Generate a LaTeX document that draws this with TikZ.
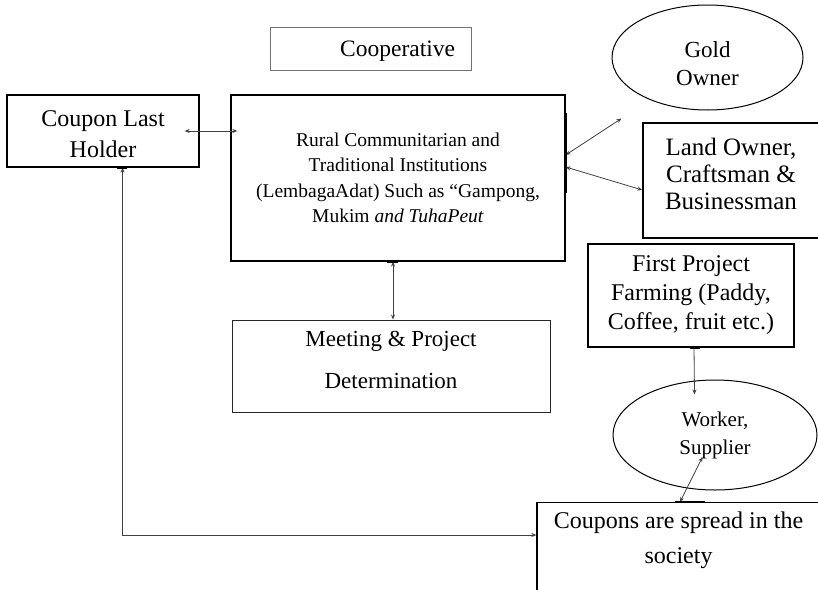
\documentclass[tikz,border=0pt]{standalone}
\usepackage{fontspec}
\setmainfont{Liberation Serif}
\usetikzlibrary{arrows.meta,shapes.geometric,calc}

\begin{document}
\begin{tikzpicture}[x=1pt,y=-1pt,
        box/.style={draw,line width=1.3pt,rectangle,inner sep=0pt,align=center},
        oval/.style={draw,line width=1pt,ellipse,inner sep=0pt,align=center},
        link/.style={{Stealth[length=5pt,width=4pt]}-{Stealth[length=5pt,width=4pt]},line width=0.8pt,draw=black!75},
        onelink/.style={-{Stealth[length=5pt,width=4pt]},line width=0.8pt,draw=black!75},
        tick/.style={line width=2.2pt}]
    \useasboundingbox (0,0) rectangle (818,589);
    \clip (0,0) rectangle (818,589);
    % boxes
    \node[draw=black!55,line width=0.8pt,minimum width=201pt,minimum height=43pt,inner xsep=16pt,text width=169pt,text height=22pt,align=right,font=\fontsize{23.5}{27}\selectfont] (coop) at (370.5,48.5) {Cooperative};
    \node[box,minimum width=192pt,minimum height=72pt,font=\fontsize{24}{31}\selectfont] (holder) at (103,131) {\rule{0pt}{22.5pt}Coupon Last\\Holder};
    \node[box,minimum width=334pt,minimum height=166pt,font=\fontsize{19.5}{25.5}\selectfont] (rural) at (398,178) {Rural Communitarian and\\Traditional Institutions\\(LembagaAdat) Such as “Gampong,\\Mukim \textit{and TuhaPeut}};
    \node[oval,minimum width=191pt,minimum height=105pt,font=\fontsize{23}{28}\selectfont] (gold) at (707.5,57.5) {\rule{0pt}{27.5pt}Gold\\Owner};
    \node[box,minimum width=176pt,minimum height=115pt,text depth=14pt,font=\fontsize{25}{27}\selectfont] (land) at (731,180.5) {Land Owner,\\Craftsman \&\\Businessman};
    \node[draw=black!85,line width=0.9pt,minimum width=318pt,minimum height=92pt,align=center,text depth=12pt,font=\fontsize{23}{42}\selectfont] (meeting) at (391,366) {Meeting \& Project\\Determination};
    \node[box,minimum width=206pt,minimum height=103pt,font=\fontsize{24}{29}\selectfont] (first) at (691,295.5) {First Project\\Farming (Paddy,\\Coffee, fruit etc.)};
    \node[oval,minimum width=204pt,minimum height=110pt,font=\fontsize{21}{28}\selectfont] (worker) at (715,435) {Worker,\\Supplier};
    \node[box,anchor=north,minimum width=283pt,inner ysep=9.5pt,text depth=48pt,font=\fontsize{24}{35}\selectfont] (coupons) at (678.5,502) {Coupons are spread in the\\society};
    % connectors
    \draw[link] ([xshift=-15pt]holder.east) -- ($(holder.east -| rural.west)+(7,0)$);
    \draw[link] ([yshift=23pt]rural.east) -- ([xshift=-86pt,yshift=-8pt]gold.south);
    \draw[link] ([yshift=11pt]rural.east) -- ([yshift=-9.5pt]land.west);
    \draw[link] ($(rural.south)+(-5,0)$) -- ($(rural.south |- meeting.north)+(-5,0)$);
    \draw[onelink] ($(first.south)+(3,0)$) -- ($(worker.north)+(-20.5,15)$);
    \draw[link] ($(worker.center)+(-12.5,22)$) -- ($(coupons.north)+(1.5,0)$);
    \draw[link] ($(holder.south)+(19.5,0)$) |- ($(coupons.north west)+(0,33)$);
    % thick marks
    \foreach \a/\dx/\len in {holder.south/14/10,rural.south/-11/11,first.south/-1/10,coupons.north/-3.5/30}
        \draw[tick] ($(\a)+(\dx,0)$) -- ++(\len,0);
    \draw[tick] ($(rural.east)+(0,-65)$) -- ++(0,80);
\end{tikzpicture}
\end{document}
